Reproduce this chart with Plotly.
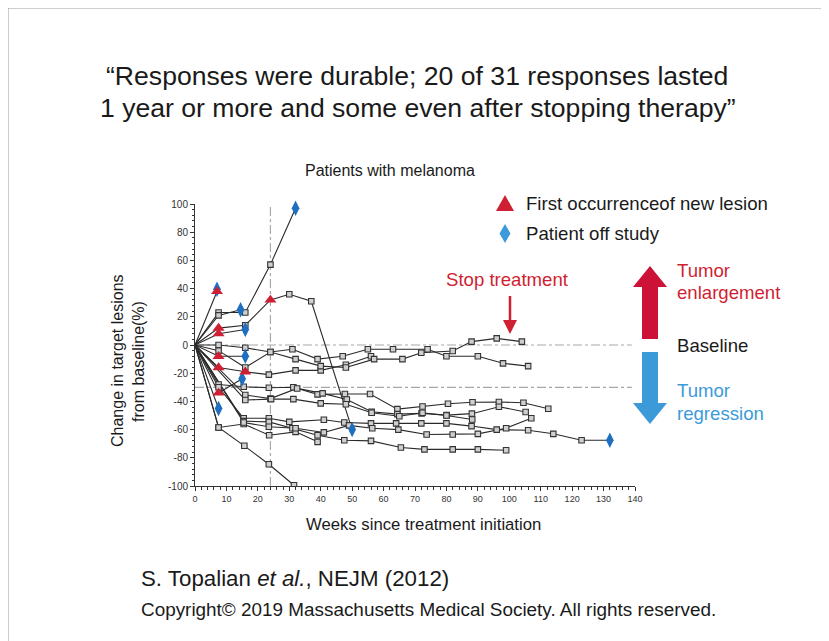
import plotly.graph_objects as go

# ---------------- data (weeks since treatment initiation, % change) ----------------
wk_01 = [0, 7];                              pct_01 = [0, 38]
wk_02 = [0, 7.5, 16, 24, 32];                pct_02 = [0, 23, 23, 57, 97]
wk_03 = [0, 7.5, 14.5];                      pct_03 = [0, 21, 25]
wk_04 = [0, 7.5, 16, 24, 30, 37, 50];        pct_04 = [0, 12, 14, 32, 36, 31, -60]
wk_05 = [0, 7.5, 16];                        pct_05 = [0, 8, 11]
wk_06 = [0, 7.5, 16];                        pct_06 = [0, -8, -8]
wk_07 = [0, 7.5, 16, 23.5, 32, 40, 48, 56];  pct_07 = [0, -16, -19, -21, -18, -18, -14, -8]
wk_08 = [0, 7.5, 15];                        pct_08 = [0, -34, -24]
wk_09 = [0, 7.5];                            pct_09 = [0, -45]
wk_10 = [0, 7.5, 16, 24, 31, 39, 47, 55, 63, 74, 80, 90, 98, 106]
pct_10 = [0, 0, -2, -5, -3, -10, -8, -3, -3, -3, -8, -8, -13, -15]
wk_11 = [0, 7.5, 16, 24, 32, 40, 48, 57, 66, 72, 82, 88, 96, 104]
pct_11 = [0, -4, -16, -5, -10, -15, -16, -10, -10, -5.5, -4.3, 2.4, 4.7, 2.4]
wk_12 = [0, 7.5, 15.5, 23.5, 31.3, 39, 47.7, 55.7, 64.4, 72.4, 80.5, 88.3, 96.7, 104.5, 112.4]
pct_12 = [0, -28, -29.6, -30.3, -30, -35, -34.8, -34.8, -45.5, -43.6, -41.7, -40.6, -40.4, -41, -45.2]
wk_13 = [0, 16, 24, 32.5, 40.6, 48.3, 56.2, 64.4, 72.1, 80.1, 88.1, 96.7, 105.2]
pct_13 = [0, -35.5, -38, -30.8, -34.3, -38.6, -47.4, -49, -48.5, -49.7, -48.7, -43.8, -47.5]
wk_14 = [0, 16, 24.2, 31.3, 40, 48, 56.2, 65, 72.4, 80, 88.2]
pct_14 = [0, -39, -38.4, -38.4, -41.4, -42, -48, -50.5, -48, -50, -52.8]
wk_15 = [0, 7.5, 15.5, 23.5, 30, 41, 47.5, 56, 64, 72, 80, 88, 96, 106, 114, 123, 132]
pct_15 = [0, -30, -52, -52, -54.5, -53, -55, -55.6, -55.6, -55.6, -55.6, -57.5, -60, -60.5, -63, -67.5, -67.5]
wk_16 = [0, 15.5, 23.5, 31, 39, 47.5, 56, 65.5, 73, 82, 90, 99]
pct_16 = [0, -54, -54.5, -59, -64, -67.5, -68, -72.7, -74, -74, -74, -74.6]
wk_17 = [0, 7.5, 15.5, 23.6, 32, 39]
pct_17 = [0, -58.5, -56, -64, -61.6, -68.7]
wk_18 = [0, 15.5, 23.5, 32, 41, 49, 56.4, 64.7, 73.7, 82, 90, 99, 107]
pct_18 = [0, -55, -58, -59, -62, -57, -59, -60, -63.5, -63.5, -63, -59, -52]
wk_19 = [0, 7.5, 15.7, 23.5, 31.5];           pct_19 = [0, -58.5, -71.5, -84.6, -99.5]

new_lesion_weeks = [7, 7.5, 24, 7.5, 7.5, 7.5, 16, 7.5]
new_lesion_pct = [38, 12, 32, 8, -8, -16, -19, -34]
off_study_weeks = [7, 32, 14.5, 50, 16, 16, 15, 7.5, 132]
off_study_pct = [39.5, 97, 25, -60, 11, -8, -24, -45, -67.5]

x_ticks = [0, 10, 20, 30, 40, 50, 60, 70, 80, 90, 100, 110, 120, 130, 140]
y_ticks = [100, 80, 60, 40, 20, 0, -20, -40, -60, -80, -100]
ref_levels = [0, -30]
ref_week = 24

patients = [(wk_01, pct_01), (wk_02, pct_02), (wk_03, pct_03), (wk_04, pct_04),
            (wk_05, pct_05), (wk_06, pct_06), (wk_07, pct_07), (wk_08, pct_08),
            (wk_09, pct_09), (wk_10, pct_10), (wk_11, pct_11), (wk_12, pct_12),
            (wk_13, pct_13), (wk_14, pct_14), (wk_15, pct_15), (wk_16, pct_16),
            (wk_17, pct_17), (wk_18, pct_18), (wk_19, pct_19)]

# ---------------- layout geometry (screen pixels; page has an 8px body margin) ----------------
W, H = 829, 641
OFF = 8
PL, PR, PT, PB = 195, 635, 204, 486
FONT = "Liberation Sans, Arial, sans-serif"
RED = "#cf1f33"
BLUE_MK = "#1f6fc0"
BLUE = "#3d9ad8"


def pp(px, py):
    return (px - PL) / (PR - PL), (PB - py) / (PB - PT)


fig = go.Figure()

special = set(zip(new_lesion_weeks, new_lesion_pct)) | set(zip(off_study_weeks, off_study_pct))

for wk, pc in patients:
    fig.add_trace(go.Scatter(x=wk, y=pc, mode="lines",
                             line=dict(color="#2a2a2a", width=1.1),
                             hoverinfo="skip", showlegend=False))
for wk, pc in patients:
    sx = [w for i, (w, p) in enumerate(zip(wk, pc)) if i > 0 and (w, p) not in special]
    sy = [p for i, (w, p) in enumerate(zip(wk, pc)) if i > 0 and (w, p) not in special]
    fig.add_trace(go.Scatter(x=sx, y=sy, mode="markers",
                             marker=dict(symbol="square", size=5.5, color="#cfcfcf",
                                         line=dict(color="#333333", width=1.1)),
                             hoverinfo="skip", showlegend=False))

fig.add_trace(go.Scatter(x=off_study_weeks, y=off_study_pct, mode="markers",
                         marker=dict(symbol="diamond-tall", size=11, color=BLUE_MK,
                                     line=dict(width=0)),
                         showlegend=False, cliponaxis=False))
fig.add_trace(go.Scatter(x=new_lesion_weeks, y=new_lesion_pct, mode="markers",
                         marker=dict(symbol="triangle-up", size=10.5, color=RED,
                                     line=dict(width=0)),
                         showlegend=False, cliponaxis=False))

shapes = []
for lv in ref_levels:
    shapes.append(dict(type="line", xref="x", yref="y", x0=0, x1=139, y0=lv, y1=lv,
                       line=dict(color="#a8a8a8", width=1.2, dash="dashdot"), layer="below"))
shapes.append(dict(type="line", xref="x", yref="y", x0=ref_week, x1=ref_week, y0=-100, y1=100,
                   line=dict(color="#a8a8a8", width=1.2, dash="dashdot"), layer="below"))


def pline(pts, close=True):
    s = ""
    for i, (px, py) in enumerate(pts):
        x, y = pp(px, py)
        s += ("M" if i == 0 else "L") + f"{x:.5f},{y:.5f} "
    return s + ("Z" if close else "")


# legend symbols
shapes.append(dict(type="path", xref="paper", yref="paper",
                   path=pline([(505, 195), (514, 211), (496, 211)]),
                   fillcolor=RED, line=dict(width=0)))
shapes.append(dict(type="path", xref="paper", yref="paper",
                   path=pline([(505, 224), (510.5, 233.5), (505, 243), (499.5, 233.5)]),
                   fillcolor=BLUE, line=dict(width=0)))

# stop treatment arrow
x0, y0 = pp(510, 296)
x1, y1 = pp(510, 322)
shapes.append(dict(type="line", xref="paper", yref="paper", x0=x0, y0=y0, x1=x1, y1=y1,
                   line=dict(color=RED, width=2.5)))
shapes.append(dict(type="path", xref="paper", yref="paper",
                   path=pline([(503, 320), (517, 320), (510, 334)]),
                   fillcolor=RED, line=dict(width=0)))
# big red up arrow
shapes.append(dict(type="path", xref="paper", yref="paper",
                   path=pline([(650, 266), (667, 287), (658, 287), (658, 339),
                               (642, 339), (642, 287), (633, 287)]),
                   fillcolor="#cc1236", line=dict(width=0)))
# big blue down arrow
shapes.append(dict(type="path", xref="paper", yref="paper",
                   path=pline([(642, 352), (658, 352), (658, 403), (667, 403),
                               (650, 424), (633, 403), (642, 403)]),
                   fillcolor=BLUE, line=dict(width=0)))
# slide frame (top, left, right edges)
shapes.append(dict(type="path", xref="paper", yref="paper",
                   path=pline([(8, 660), (8, 8), (822, 8), (822, 660)], close=False),
                   line=dict(color="#9a9a9a", width=1)))

annotations = []


def text(px, py, s, size, color="#1a1a1a", anchor="center", angle=0):
    x, y = pp(px, py)
    annotations.append(dict(x=x, y=y, xref="paper", yref="paper", text=s, showarrow=False,
                            xanchor=anchor, yanchor="middle", textangle=angle,
                            font=dict(family=FONT, size=size, color=color)))


text(417, 76, "\u201cResponses were durable; 20 of 31 responses lasted", 26.6)
text(418, 108, "1 year or more and some even after stopping therapy\u201d", 26.6)
text(390, 170, "Patients with melanoma", 16)
text(117, 361, "Change in target lesions", 16, angle=-90)
text(138, 362, "from baseline(%)", 16, angle=-90)
text(423, 524, "Weeks since treatment initiation", 16.7)
text(524, 203, "First occurrenceof new lesion", 18.6, anchor="left")
text(524, 233, "Patient off study", 18.6, anchor="left")
text(507, 279, "Stop treatment", 18.6, color=RED)
text(675, 270, "Tumor", 18.6, color=RED, anchor="left")
text(675, 292, "enlargement", 18.6, color=RED, anchor="left")
text(675, 345, "Baseline", 18.6, anchor="left")
text(675, 390, "Tumor", 18.6, color=BLUE, anchor="left")
text(675, 413, "regression", 18.6, color=BLUE, anchor="left")
text(139, 578, "S. Topalian <i>et al.</i>, NEJM (2012)", 22.3, anchor="left")
text(139, 609, "Copyright\u00a9 2019 Massachusetts Medical Society. All rights reserved.", 18.9, anchor="left")

axis_common = dict(showline=True, linecolor="#333333", linewidth=1, ticks="outside",
                   ticklen=4, tickcolor="#333333", showgrid=False, zeroline=False)

fig.update_layout(
    width=W, height=H,
    margin=dict(l=PL - OFF, r=W - (PR - OFF), t=PT - OFF, b=H - (PB - OFF)),
    paper_bgcolor="white", plot_bgcolor="white",
    xaxis=dict(range=[0, 140], tickvals=x_ticks, ticktext=[str(v) for v in x_ticks],
               minor=dict(dtick=2, ticklen=2.5, ticks="outside", tickcolor="#333333"),
               tickfont=dict(family=FONT, size=9, color="#333333"),
               **axis_common),
    yaxis=dict(range=[-100, 100], tickvals=y_ticks, ticktext=[str(v) for v in y_ticks],
               minor=dict(dtick=4, ticklen=2.5, ticks="outside", tickcolor="#333333"),
               tickfont=dict(family=FONT, size=10, color="#333333"),
               **axis_common),
    shapes=shapes, annotations=annotations, showlegend=False,
)

fig.write_html("out.html")
